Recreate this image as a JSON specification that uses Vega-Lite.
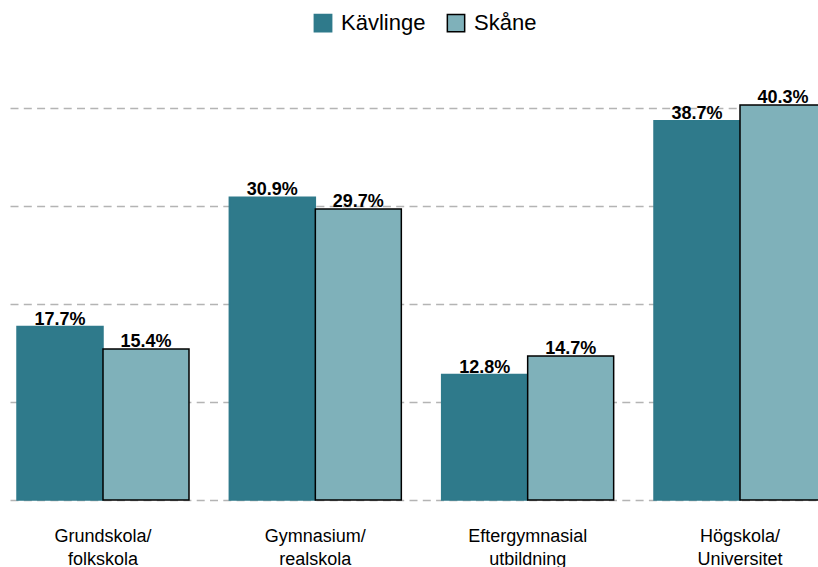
{
  "$schema": "https://vega.github.io/schema/vega-lite/v6.json",
  "autosize": {"type": "none"},
  "width": 818,
  "height": 441,
  "padding": {"top": 59, "left": 0, "right": 0, "bottom": 67},
  "background": "white",
  "config": {
    "view": {"stroke": null},
    "font": "Liberation Sans"
  },
  "data": {
    "values": [
      {"utbildning": "Grundskola/ folkskola", "omrade": "Kävlinge", "andel": 0.177},
      {"utbildning": "Grundskola/ folkskola", "omrade": "Skåne", "andel": 0.154},
      {"utbildning": "Gymnasium/ realskola", "omrade": "Kävlinge", "andel": 0.309},
      {"utbildning": "Gymnasium/ realskola", "omrade": "Skåne", "andel": 0.297},
      {"utbildning": "Eftergymnasial utbildning", "omrade": "Kävlinge", "andel": 0.128},
      {"utbildning": "Eftergymnasial utbildning", "omrade": "Skåne", "andel": 0.147},
      {"utbildning": "Högskola/ Universitet", "omrade": "Kävlinge", "andel": 0.387},
      {"utbildning": "Högskola/ Universitet", "omrade": "Skåne", "andel": 0.403}
    ]
  },
  "encoding": {
    "x": {
      "field": "utbildning",
      "type": "nominal",
      "sort": null,
      "scale": {"range": [10, 833], "paddingInner": 0.19, "paddingOuter": 0.033},
      "axis": {
        "title": null,
        "domain": false,
        "ticks": false,
        "labelAngle": 0,
        "labelFontSize": 18,
        "labelColor": "#000000",
        "labelPadding": 27,
        "labelLineHeight": 23,
        "labelBaseline": "top",
        "labelExpr": "split(datum.label, ' ')"
      }
    },
    "xOffset": {"field": "omrade", "type": "nominal", "sort": ["Kävlinge", "Skåne"]},
    "y": {
      "field": "andel",
      "type": "quantitative",
      "scale": {"domain": [0, 0.45], "nice": false},
      "axis": {
        "title": null,
        "labels": false,
        "ticks": false,
        "domain": false,
        "values": [0, 0.1, 0.2, 0.3, 0.4],
        "grid": true,
        "gridColor": "#b4b4b4",
        "gridDash": [8, 5.3],
        "gridWidth": 1.5
      }
    }
  },
  "layer": [
    {
      "mark": {"type": "bar", "strokeWidth": 1.5},
      "encoding": {
        "fill": {
          "field": "omrade",
          "type": "nominal",
          "sort": ["Kävlinge", "Skåne"],
          "scale": {"domain": ["Kävlinge", "Skåne"], "range": ["#2f7a8b", "#7fb1ba"]},
          "legend": {
            "title": null,
            "orient": "none",
            "direction": "horizontal",
            "legendX": 312,
            "legendY": -47,
            "symbolType": "square",
            "symbolSize": 300,
            "symbolStrokeWidth": 1.5,
            "labelFontSize": 22,
            "labelColor": "#000000",
            "labelOffset": 7,
            "columnPadding": 18
          }
        },
        "stroke": {
          "field": "omrade",
          "type": "nominal",
          "sort": ["Kävlinge", "Skåne"],
          "scale": {"domain": ["Kävlinge", "Skåne"], "range": ["#2f7a8b", "#000000"]},
          "legend": null
        }
      }
    },
    {
      "mark": {"type": "text", "baseline": "alphabetic", "dy": -2, "fontSize": 18, "fontWeight": "bold", "color": "#000000"},
      "encoding": {
        "text": {"field": "andel", "type": "quantitative", "format": ".1%"}
      }
    }
  ]
}
